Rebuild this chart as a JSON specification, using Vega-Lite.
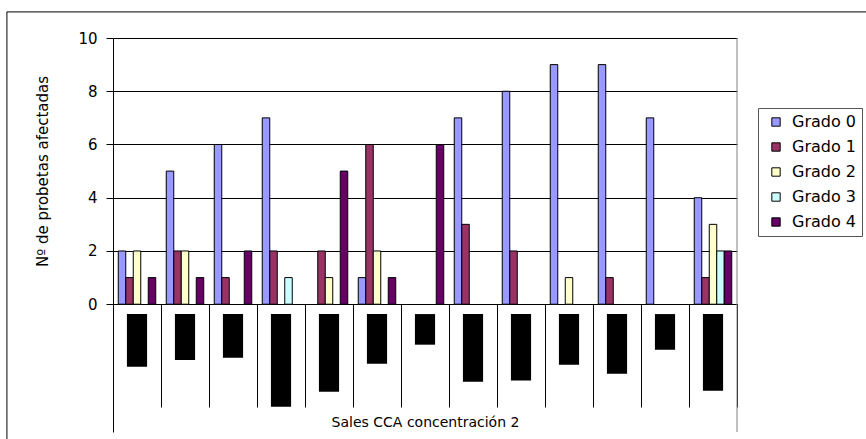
{
  "$schema": "https://vega.github.io/schema/vega-lite/v6.json",
  "width": 624,
  "height": 394,
  "autosize": {"type": "none"},
  "padding": {"left": 113, "top": 38, "right": 129, "bottom": 7},
  "background": "white",
  "config": {
    "view": {"stroke": null},
    "font": "DejaVu Sans",
    "axis": {"labelColor": "#000", "titleColor": "#000", "titleFontWeight": "normal", "labelFont": "DejaVu Sans", "titleFont": "DejaVu Sans"},
    "legend": {"labelColor": "#000", "labelFont": "DejaVu Sans"}
  },
  "datasets": {
    "grados": [
      {"caso": 1, "grado": "Grado 0", "n": 2}, {"caso": 1, "grado": "Grado 1", "n": 1}, {"caso": 1, "grado": "Grado 2", "n": 2}, {"caso": 1, "grado": "Grado 4", "n": 1},
      {"caso": 2, "grado": "Grado 0", "n": 5}, {"caso": 2, "grado": "Grado 1", "n": 2}, {"caso": 2, "grado": "Grado 2", "n": 2}, {"caso": 2, "grado": "Grado 4", "n": 1},
      {"caso": 3, "grado": "Grado 0", "n": 6}, {"caso": 3, "grado": "Grado 1", "n": 1}, {"caso": 3, "grado": "Grado 4", "n": 2},
      {"caso": 4, "grado": "Grado 0", "n": 7}, {"caso": 4, "grado": "Grado 1", "n": 2}, {"caso": 4, "grado": "Grado 3", "n": 1},
      {"caso": 5, "grado": "Grado 1", "n": 2}, {"caso": 5, "grado": "Grado 2", "n": 1}, {"caso": 5, "grado": "Grado 4", "n": 5},
      {"caso": 6, "grado": "Grado 0", "n": 1}, {"caso": 6, "grado": "Grado 1", "n": 6}, {"caso": 6, "grado": "Grado 2", "n": 2}, {"caso": 6, "grado": "Grado 4", "n": 1},
      {"caso": 7, "grado": "Grado 4", "n": 6},
      {"caso": 8, "grado": "Grado 0", "n": 7}, {"caso": 8, "grado": "Grado 1", "n": 3},
      {"caso": 9, "grado": "Grado 0", "n": 8}, {"caso": 9, "grado": "Grado 1", "n": 2},
      {"caso": 10, "grado": "Grado 0", "n": 9}, {"caso": 10, "grado": "Grado 2", "n": 1},
      {"caso": 11, "grado": "Grado 0", "n": 9}, {"caso": 11, "grado": "Grado 1", "n": 1},
      {"caso": 12, "grado": "Grado 0", "n": 7},
      {"caso": 13, "grado": "Grado 0", "n": 4}, {"caso": 13, "grado": "Grado 1", "n": 1}, {"caso": 13, "grado": "Grado 2", "n": 3}, {"caso": 13, "grado": "Grado 3", "n": 2}, {"caso": 13, "grado": "Grado 4", "n": 2}
    ],
    "bloques": [
      {"caso": 1, "fondo": -2.35}, {"caso": 2, "fondo": -2.1}, {"caso": 3, "fondo": -2.01},
      {"caso": 4, "fondo": -3.85}, {"caso": 5, "fondo": -3.29}, {"caso": 6, "fondo": -2.24},
      {"caso": 7, "fondo": -1.52}, {"caso": 8, "fondo": -2.91}, {"caso": 9, "fondo": -2.87},
      {"caso": 10, "fondo": -2.27}, {"caso": 11, "fondo": -2.61}, {"caso": 12, "fondo": -1.71},
      {"caso": 13, "fondo": -3.25}
    ]
  },
  "layer": [
    {
      "layer": [
        {
          "data": {"name": "grados"},
          "mark": {"type": "bar", "stroke": "#000", "strokeWidth": 1},
          "encoding": {
            "x": {
              "field": "caso",
              "type": "ordinal",
              "scale": {"paddingInner": 0, "paddingOuter": 0},
              "axis": {
                "orient": "bottom",
                "offset": -128,
                "labels": false,
                "grid": false,
                "tickBand": "extent",
                "tickSize": 103,
                "tickColor": "#000",
                "domainColor": "#000",
                "title": "Sales CCA concentración 2",
                "titleFontSize": 14,
                "titlePadding": 8
              }
            },
            "xOffset": {
              "field": "grado",
              "type": "nominal",
              "scale": {"domain": ["Grado 0", "Grado 1", "Grado 2", "Grado 3", "Grado 4"], "paddingInner": 0, "paddingOuter": 0.7}
            },
            "y": {
              "field": "n",
              "type": "quantitative",
              "scale": {"domain": [-4.8, 10], "nice": false},
              "axis": {
                "values": [0, 2, 4, 6, 8, 10],
                "grid": true,
                "gridColor": "#000",
                "gridWidth": 1,
                "domainColor": "#000",
                "tickColor": "#000",
                "tickSize": 7,
                "labelPadding": 9,
                "labelFontSize": 15,
                "title": "Nº de probetas afectadas",
                "titleFontSize": 15,
                "titleAngle": -90,
                "titleX": -71,
                "titleY": 133,
                "titleAlign": "center",
                "titleBaseline": "middle"
              }
            },
            "color": {
              "field": "grado",
              "type": "nominal",
              "scale": {
                "domain": ["Grado 0", "Grado 1", "Grado 2", "Grado 3", "Grado 4"],
                "range": ["#9999FF", "#993366", "#FFFFCC", "#CCFFFF", "#660066"]
              },
              "legend": {
                "orient": "none",
                "legendX": 645,
                "legendY": 70,
                "title": null,
                "symbolType": "square",
                "symbolSize": 70,
                "symbolStrokeColor": "#000",
                "symbolStrokeWidth": 1,
                "labelFontSize": 16,
                "labelOffset": 8,
                "symbolOffset": 4,
                "rowPadding": 9,
                "padding": 6,
                "strokeColor": "#555"
              }
            }
          }
        },
        {
          "data": {"name": "bloques"},
          "mark": {"type": "bar", "color": "#000", "width": {"band": 0.42}},
          "encoding": {
            "x": {"field": "caso", "type": "ordinal"},
            "y": {"field": "fondo", "type": "quantitative"},
            "y2": {"datum": -0.37}
          }
        }
      ]
    },
    {
      "data": {"values": [{}]},
      "layer": [
        {
          "mark": {"type": "rule", "color": "#000", "strokeWidth": 1},
          "encoding": {
            "x": {"datum": -2.21, "type": "quantitative", "scale": {"domain": [0, 13], "nice": false, "zero": false}, "axis": null},
            "y": {"datum": 10.98, "type": "quantitative"},
            "y2": {"datum": -6}
          }
        },
        {
          "mark": {"type": "rule", "color": "#000", "strokeWidth": 1},
          "encoding": {
            "x": {"datum": -2.21, "type": "quantitative", "axis": null},
            "x2": {"datum": 17},
            "y": {"datum": 10.98, "type": "quantitative"}
          }
        },
        {
          "mark": {"type": "rule", "color": "#808080", "strokeWidth": 1},
          "encoding": {
            "x": {"datum": 13, "type": "quantitative", "axis": null},
            "y": {"datum": 10, "type": "quantitative"},
            "y2": {"datum": -4.8}
          }
        }
      ]
    }
  ],
  "resolve": {"scale": {"x": "independent"}}
}
